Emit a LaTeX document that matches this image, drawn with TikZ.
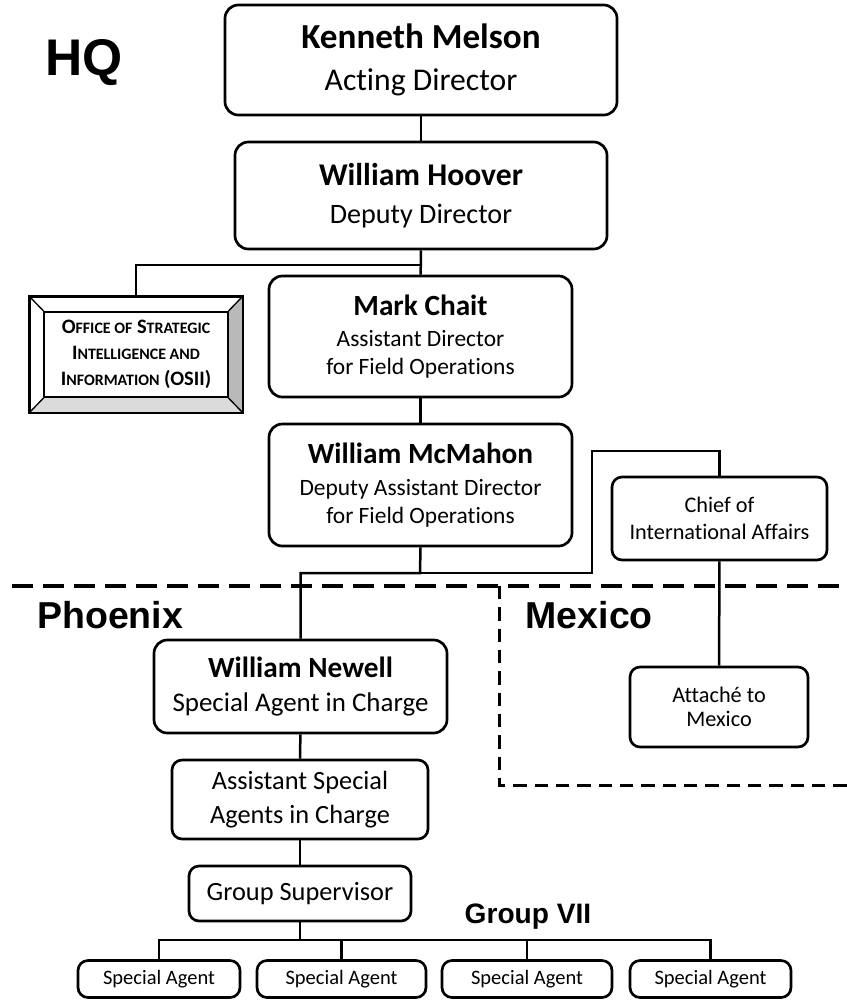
\documentclass[tikz,border=0pt]{standalone}
\usepackage{fontspec}
\setmainfont{Carlito}[Ligatures=NoCommon]
\newfontfamily\headfont{Liberation Sans}
\newcommand\lowcaps[1]{{\fontsize{13.6}{22}\selectfont #1}}

\tikzset{
  unit/.style={draw, rounded corners=4mm, line width=0.8mm, align=center, inner sep=0pt},
  small unit/.style={unit, rounded corners=3mm},
  sz/.style 2 args={minimum width=#1*0.3mm, minimum height=#2*0.3mm},
  link/.style={line width=0.75mm},
  region/.style={line width=1.2mm, dash pattern=on 6.3mm off 3mm},
  region edge/.style={line width=0.9mm, dash pattern=on 4mm off 2.4mm},
  heading/.style={anchor=base west, inner sep=0pt}
}

\begin{document}
\begin{tikzpicture}[x=0.3mm, y=-0.3mm]
\useasboundingbox (0,0) rectangle (847,1000);

% headings
\node[heading, font=\headfont\bfseries\fontsize{44}{44}\selectfont] (hq) at (45,75) {HQ};
\node[heading, font=\headfont\bfseries\fontsize{32}{32}\selectfont] (phoenix) at (37,628) {Phoenix};
\node[heading, anchor=base east, font=\headfont\bfseries\fontsize{32}{32}\selectfont] (mexico) at (653,628) {Mexico};
\node[heading, anchor=base, font=\headfont\bfseries\fontsize{24}{24}\selectfont] (group) at (528,923) {Group VII};

% HQ
\node[unit, sz={392}{110}, font=\fontsize{27}{36}\selectfont] (melson) at (421,60)
  {{\fontsize{30}{36}\selectfont\bfseries Kenneth Melson}\\Acting Director};
\node[unit, sz={372}{107}, font=\fontsize{24}{32}\selectfont] (hoover) at (421,195.5)
  {{\fontsize{27}{32}\selectfont\bfseries William Hoover}\\Deputy Director};
\node[unit, sz={303}{121}, font=\fontsize{20}{24}\selectfont] (chait) at (420.5,336.5)
  {{\fontsize{25}{24}\selectfont\bfseries Mark Chait}\\[3pt]Assistant Director\\for Field Operations};
\node[unit, sz={303}{122}, font=\fontsize{20}{24}\selectfont] (mcmahon) at (420.5,485)
  {{\fontsize{25}{24}\selectfont\bfseries William McMahon}\\[3pt]Deputy Assistant Director\\for Field Operations};

% OSII box with bevel
\node[draw, line width=0.6mm, sz={212}{115}] (osii) at (136,354.5) {};
\node[sz={183}{85}, inner sep=0pt] (osiiin) at (osii.center) {};
\fill[gray!55] (osii.north east) -- (osii.south east) -- (osiiin.south east) -- (osiiin.north east) -- cycle;
\fill[gray!28] (osii.south west) -- (osii.south east) -- (osiiin.south east) -- (osiiin.south west) -- cycle;
\draw[line width=0.6mm] (osii.north west) rectangle (osii.south east);
\draw[line width=0.5mm] (osiiin.north west) rectangle (osiiin.south east);
\foreach \c in {north west, north east, south west, south east}
  \draw[line width=0.4mm] (osii.\c) -- (osiiin.\c);
\node[align=center, font=\fontsize{17.5}{22}\selectfont\bfseries] (osiitext) at (osii.center)
  {O\lowcaps{FFICE OF} S\lowcaps{TRATEGIC}\\I\lowcaps{NTELLIGENCE AND}\\I\lowcaps{NFORMATION} (OSII)};

% international
\node[small unit, sz={215}{83}, font=\fontsize{19}{23}\selectfont] (chief) at (719.5,518.5)
  {Chief of\\International Affairs};
\node[small unit, sz={178}{80}, font=\fontsize{19}{21}\selectfont] (attache) at (719,707)
  {Attaché to\\Mexico};

% Phoenix
\node[unit, sz={293}{93}, font=\fontsize{23}{29}\selectfont] (newell) at (300.5,686.5)
  {{\fontsize{25}{29}\selectfont\bfseries William Newell}\\Special Agent in Charge};
\node[small unit, sz={256}{79}, font=\fontsize{22.5}{29}\selectfont] (asac) at (300,799.5)
  {Assistant Special\\Agents in Charge};
\node[small unit, sz={222}{55}, font=\fontsize{22.5}{27}\selectfont] (gsup) at (300,893.5)
  {Group Supervisor};
\foreach \n/\x/\w in {1/159/162, 2/341.5/169, 3/527/170, 4/710.5/161}
  \node[small unit, sz={\w}{37}, font=\fontsize{17.5}{20}\selectfont] (agent\n) at (\x,979) {Special Agent};

% connectors
\coordinate (hqsplit) at (420,265);
\coordinate (fo) at (420,573);
\coordinate (intl) at (592,451);
\coordinate (gv) at (300,940);
\draw[link] (melson) -- (hoover);
\draw[link] (hoover) -- (chait);
\draw[link] (osii.north) |- (hqsplit);
\draw[link] (chait) -- (mcmahon);
\draw[link] (mcmahon.south) -- (fo) -| (newell.north);
\draw[link] (fo) -| (intl) -| (chief.north);
\draw[link] (chief) -- (attache);
\draw[link] (newell) -- (asac);
\draw[link] (asac) -- (gsup);
\draw[link] (gsup.south) -- (gv);
\foreach \n in {1,...,4}
  \draw[link] (gv) -| (agent\n.north);

% office boundaries
\coordinate (westend) at (12,586);
\coordinate (eastend) at (847,586);
\coordinate (mxtop) at (499,586);
\coordinate (mxcorner) at (499,785);
\coordinate (mxend) at (847,785);
\draw[region] (westend) -- (eastend);
\draw[region edge] (mxtop) -- (mxcorner) -- (mxend);
\end{tikzpicture}
\end{document}
